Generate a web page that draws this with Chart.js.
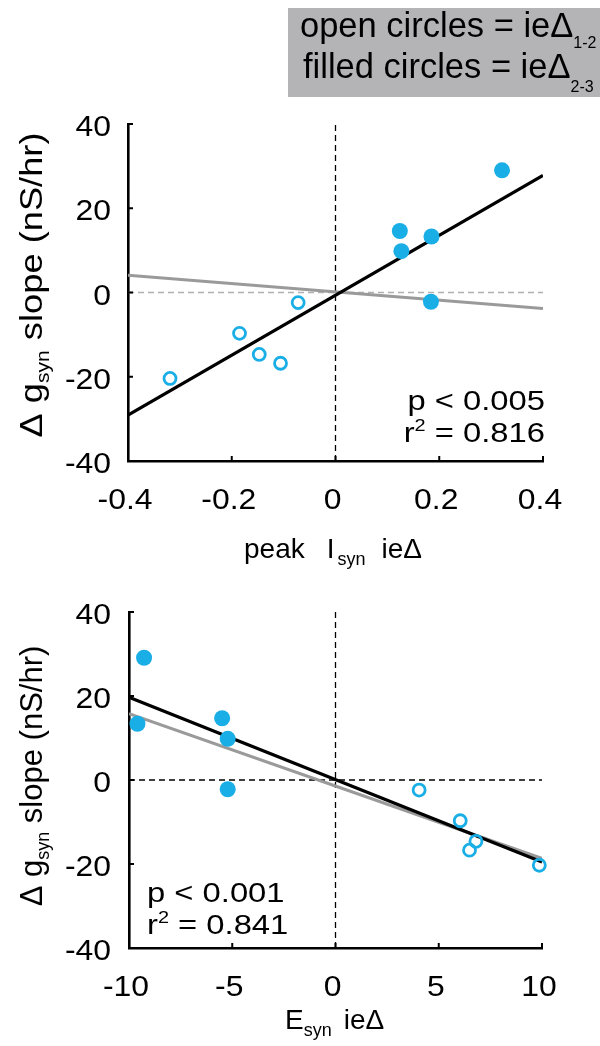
<!DOCTYPE html>
<html lang="en">
<head>
    <meta charset="UTF-8">
    <title>Delta g_syn slope vs peak I_syn and E_syn</title>
    <script src="https://cdn.jsdelivr.net/npm/chart.js"></script>
    <style>
        body {
            margin: 0;
            background: #ffffff;
        }
        .page {
            position: relative;
            width: 600px;
            height: 1046px;
        }
        #chartTop {
            position: absolute;
            left: 0;
            top: 0;
        }
        #chartBottom {
            position: absolute;
            left: 0;
            top: 575px;
        }
    </style>
</head>
<body>
    <div class="page">
        <canvas id="chartTop" width="600" height="575"></canvas>
        <canvas id="chartBottom" width="600" height="471"></canvas>
    </div>

    <script>
        // Top panel: peak I_syn ieDelta
        const openX1 = [-0.319, -0.185, -0.147, -0.106, -0.072];
        const openY1 = [-20.4, -9.7, -14.7, -16.8, -2.4];
        const filledX1 = [0.124, 0.127, 0.185, 0.184, 0.321];
        const filledY1 = [14.6, 9.8, 13.3, -2.2, 29.0];
        const fitX1 = [-0.4, 0.4];
        const fitAllY1 = [-29.1, 27.8];
        const fitGrayY1 = [4.1, -3.8];
        const xTicks1 = [-0.4, -0.2, 0, 0.2, 0.4];
        const xTickLabels1 = ['-0.4', '-0.2', '0', '0.2', '0.4'];

        // Bottom panel: E_syn ieDelta
        const openX2 = [4.05, 6.04, 6.8, 6.49, 9.87];
        const openY2 = [-2.4, -9.7, -14.6, -16.7, -20.3];
        const filledX2 = [-9.27, -9.59, -5.49, -5.22, -5.22];
        const filledY2 = [29.1, 13.4, 14.7, 9.8, -2.2];
        const fitX2 = [-10, 10];
        const fitAllY2 = [19.7, -19.5];
        const fitGrayY2 = [15.8, -18.7];
        const xTicks2 = [-10, -5, 0, 5, 10];
        const xTickLabels2 = ['-10', '-5', '0', '5', '10'];

        const yTicks = [-40, -20, 0, 20, 40];
        const yTickLabels = ['-40', '-20', '0', '20', '40'];

        const BLUE = '#1aaee6';
        const FONT = '"Liberation Sans", Arial, Helvetica, sans-serif';

        function pts(xs, ys) {
            return xs.map((x, i) => ({ x: x, y: ys[i] }));
        }

        // draws a run of text pieces (for sub/superscripts), stretched by sx
        function richText(ctx, parts, x, y, align, sx) {
            let total = 0;
            const widths = parts.map(p => {
                if (p.gap) { total += p.gap; return p.gap; }
                ctx.font = p.size + 'px ' + FONT;
                const w = ctx.measureText(p.t).width;
                total += w;
                return w;
            });
            ctx.save();
            ctx.translate(x, y);
            ctx.scale(sx, 1);
            let cur = align === 'center' ? -total / 2 : (align === 'right' ? -total : 0);
            ctx.textAlign = 'left';
            ctx.textBaseline = 'alphabetic';
            ctx.fillStyle = '#000';
            parts.forEach((p, i) => {
                if (!p.gap) {
                    ctx.font = p.size + 'px ' + FONT;
                    ctx.fillText(p.t, cur, p.dy || 0);
                }
                cur += widths[i];
            });
            ctx.restore();
        }

        // axis ticks (inward) + tick labels + titles
        const textPlugin = {
            id: 'matlabText',
            afterDraw(chart) {
                const ctx = chart.ctx;
                const o = chart.options.plugins.matlabText;
                const xs = chart.scales.x;
                const ys = chart.scales.y;
                const area = chart.chartArea;

                ctx.save();
                ctx.strokeStyle = '#000';
                ctx.lineWidth = 2;
                ys.ticks.forEach(t => {
                    const py = ys.getPixelForValue(t.value);
                    ctx.beginPath();
                    ctx.moveTo(area.left, py);
                    ctx.lineTo(area.left + 5, py);
                    ctx.stroke();
                });
                xs.ticks.forEach(t => {
                    const px = xs.getPixelForValue(t.value);
                    ctx.beginPath();
                    ctx.moveTo(px, area.bottom);
                    ctx.lineTo(px, area.bottom - 5);
                    ctx.stroke();
                });
                ctx.restore();

                ys.ticks.forEach((t, i) => {
                    const py = ys.getPixelForValue(t.value);
                    richText(ctx, [{ t: o.yLabels[i], size: 29 }], 111, py + 12, 'right', 1.1);
                });
                xs.ticks.forEach((t, i) => {
                    const px = xs.getPixelForValue(t.value);
                    richText(ctx, [{ t: o.xLabels[i], size: 29 }], px - 3, area.bottom + 48, 'center', 1.1);
                });

                // x title
                richText(ctx, o.xTitle, o.xTitleX, area.bottom + o.xTitleDy, 'left', 1);

                // y title, rotated
                ctx.save();
                ctx.translate(42, o.yTitleY);
                ctx.rotate(-Math.PI / 2);
                richText(ctx, [
                    { t: 'Δ g', size: 31 },
                    { t: 'syn', size: 18, dy: 7 },
                    { t: ' slope (nS/hr)', size: 31 }
                ], 0, 0, 'center', o.yTitleStretch);
                ctx.restore();

                // statistics
                richText(ctx, [{ t: o.pText, size: 28 }], o.statX, o.statY, o.statAlign, 1.17);
                richText(ctx, [
                    { t: 'r', size: 28 },
                    { t: '2', size: 17, dy: -11 },
                    { t: ' = ' + o.r2Text, size: 28 }
                ], o.statX, o.statY + 32, o.statAlign, 1.17);

                // legend box (top panel only)
                if (o.legend) {
                    ctx.save();
                    ctx.fillStyle = '#b4b4b6';
                    ctx.fillRect(288, 8, 312, 89);
                    ctx.restore();
                    richText(ctx, [
                        { t: 'open circles = ieΔ', size: 34.5 },
                        { t: '1-2', size: 16, dy: 11 }
                    ], 300, 37, 'left', 1);
                    richText(ctx, [
                        { t: 'filled circles = ieΔ', size: 34.5 },
                        { t: '2-3', size: 16, dy: 14 }
                    ], 303, 78, 'left', 1);
                }
            }
        };

        function makePanel(id, d) {
            const ctx = document.getElementById(id).getContext('2d');
            return new Chart(ctx, {
                type: 'scatter',
                data: {
                    datasets: [
                        {
                            // filled circles = ieDelta 2-3
                            data: pts(d.filledX, d.filledY),
                            backgroundColor: BLUE,
                            borderWidth: 0,
                            pointRadius: 8,
                            clip: false
                        },
                        {
                            // open circles = ieDelta 1-2
                            data: pts(d.openX, d.openY),
                            backgroundColor: 'rgba(0,0,0,0)',
                            borderColor: BLUE,
                            borderWidth: 2.8,
                            pointRadius: 6,
                            clip: false
                        },
                        {
                            type: 'line',
                            data: pts(d.fitX, d.fitAllY),
                            borderColor: '#000',
                            borderWidth: 3.2,
                            pointRadius: 0
                        },
                        {
                            type: 'line',
                            data: pts(d.fitX, d.fitGrayY),
                            borderColor: '#9a9a9a',
                            borderWidth: 3.2,
                            pointRadius: 0
                        },
                        {
                            type: 'line',
                            data: pts(d.fitX, [0, 0]),
                            borderColor: d.zeroColor,
                            borderWidth: 1.3,
                            borderDash: [6, 4],
                            pointRadius: 0
                        },
                        {
                            type: 'line',
                            data: pts([0, 0], [yTicks[0], yTicks[yTicks.length - 1]]),
                            borderColor: '#000',
                            borderWidth: 1.3,
                            borderDash: [6, 4],
                            pointRadius: 0
                        }
                    ]
                },
                options: {
                    responsive: false,
                    animation: false,
                    layout: { padding: { top: d.padTop, right: d.padRight, left: 0, bottom: 0 } },
                    plugins: {
                        legend: { display: false },
                        tooltip: { enabled: false },
                        matlabText: d.text
                    },
                    scales: {
                        x: {
                            type: 'linear',
                            min: d.xTicks[0],
                            max: d.xTicks[d.xTicks.length - 1],
                            afterBuildTicks: s => { s.ticks = d.xTicks.map(v => ({ value: v })); },
                            ticks: { display: false },
                            grid: { display: false },
                            border: { display: true, color: '#000', width: 2.6 },
                            afterFit: s => { s.height = d.xAxisH; }
                        },
                        y: {
                            min: yTicks[0],
                            max: yTicks[yTicks.length - 1],
                            afterBuildTicks: s => { s.ticks = yTicks.map(v => ({ value: v })); },
                            ticks: { display: false },
                            grid: { display: false },
                            border: { display: true, color: '#000', width: 2.6 },
                            afterFit: s => { s.width = d.yAxisW; }
                        }
                    }
                },
                plugins: [textPlugin]
            });
        }

        makePanel('chartTop', {
            openX: openX1, openY: openY1, filledX: filledX1, filledY: filledY1,
            fitX: fitX1, fitAllY: fitAllY1, fitGrayY: fitGrayY1,
            xTicks: xTicks1, zeroColor: '#b0b0b0',
            padTop: 124, padRight: 57, xAxisH: 114, yAxisW: 128,
            text: {
                xLabels: xTickLabels1, yLabels: yTickLabels,
                xTitle: [
                    { t: 'peak', size: 28 }, { gap: 22 }, { t: 'I', size: 28 },
                    { gap: 3 }, { t: 'syn', size: 18, dy: 7 }, { gap: 16 }, { t: 'ieΔ', size: 28 }
                ],
                xTitleX: 244, xTitleDy: 97,
                yTitleY: 285, yTitleStretch: 1.17,
                pText: 'p < 0.005', r2Text: '0.816',
                statX: 545, statY: 410, statAlign: 'right',
                legend: true
            }
        });

        makePanel('chartBottom', {
            openX: openX2, openY: openY2, filledX: filledX2, filledY: filledY2,
            fitX: fitX2, fitAllY: fitAllY2, fitGrayY: fitGrayY2,
            xTicks: xTicks2, zeroColor: '#000',
            padTop: 37, padRight: 58, xAxisH: 98, yAxisW: 129,
            text: {
                xLabels: xTickLabels2, yLabels: yTickLabels,
                xTitle: [
                    { t: 'E', size: 28 }, { t: 'syn', size: 18, dy: 7 }, { gap: 12 }, { t: 'ieΔ', size: 28 }
                ],
                xTitleX: 285, xTitleDy: 81,
                yTitleY: 201, yTitleStretch: 1,
                pText: 'p < 0.001', r2Text: '0.841',
                statX: 147, statY: 327, statAlign: 'left',
                legend: false
            }
        });
    </script>
</body>
</html>
